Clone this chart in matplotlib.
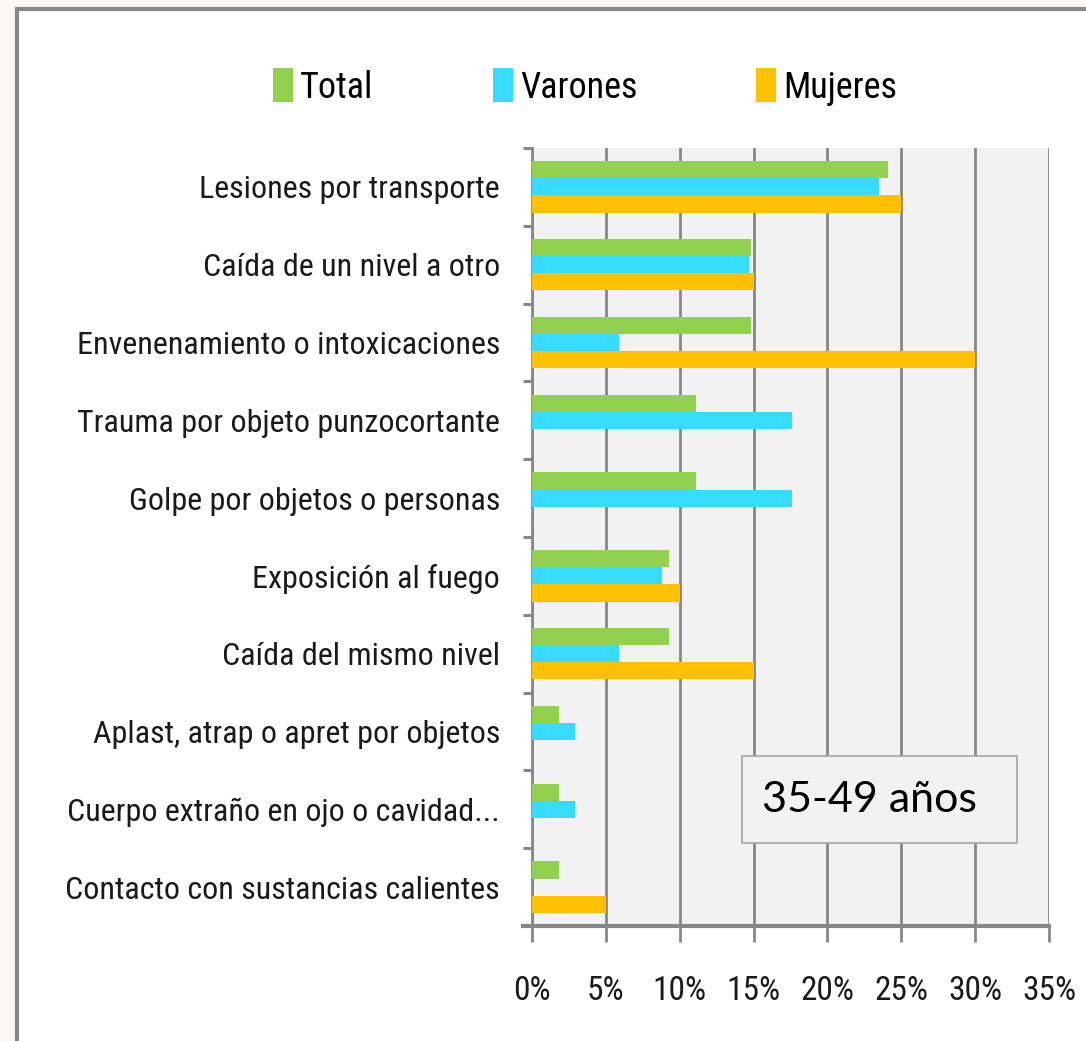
import matplotlib
matplotlib.use('Agg')
import matplotlib.pyplot as plt
from matplotlib.patches import Rectangle
from matplotlib import font_manager
import numpy as np

# datos (porcentaje por causa, 35-49 años)
categorias = ['Lesiones por transporte', 'Caída de un nivel a otro',
              'Envenenamiento o intoxicaciones', 'Trauma por objeto punzocortante',
              'Golpe por objetos o personas', 'Exposición al fuego',
              'Caída del mismo nivel', 'Aplast, atrap o apret por objetos',
              'Cuerpo extraño en ojo o cavidad...', 'Contacto con sustancias calientes']
total = [24.1, 14.8, 14.8, 11.1, 11.1, 9.3, 9.3, 1.85, 1.85, 1.85]
varones = [23.5, 14.7, 5.9, 17.6, 17.6, 8.8, 5.9, 2.94, 2.94, 0.0]
mujeres = [25.0, 15.0, 30.0, 0.0, 0.0, 10.0, 15.0, 0.0, 0.0, 5.0]
series = ['Total', 'Varones', 'Mujeres']
xticks = [0, 5, 10, 15, 20, 25, 30, 35]
xtick_labels = ['0%', '5%', '10%', '15%', '20%', '25%', '30%', '35%']
etiqueta = '35-49 años'

colores = ['#92d050', '#36dbff', '#ffc000']
gris = '#878787'

# buscar una fuente angosta, si no hay usar Roboto
disponibles = set(f.name for f in font_manager.fontManager.ttflist)
angosta = None
for nombre in ['Liberation Sans Narrow', 'DejaVu Sans Condensed', 'Roboto Condensed', 'Open Sans Condensed']:
	if nombre in disponibles:
		angosta = nombre
		break
if angosta is None:
	angosta = 'Roboto'
	esc = 0.85
else:
	esc = 1.0

plt.rcParams['font.family'] = [angosta, 'DejaVu Sans']

fig = plt.figure(figsize=(10.86, 10.41), dpi=100)
fig.patch.set_facecolor('#fcf7f2')

# marco blanco con borde gris (solo izquierda y arriba visibles)
marco = Rectangle((17 / 1086, -0.1), 1.2, 1.1 - 9 / 1041, transform=fig.transFigure,
                  facecolor='white', edgecolor=gris, linewidth=3, zorder=-10)
fig.patches.append(marco)

ax = fig.add_axes([532 / 1086, 1 - 926 / 1041, 517 / 1086, 778 / 1041])
ax.set_facecolor('#f2f2f2')

y = np.arange(len(categorias))
h = 0.221
b1 = ax.barh(y - h, total, height=h, color=colores[0], label=series[0], zorder=3)
b2 = ax.barh(y, varones, height=h, color=colores[1], label=series[1], zorder=3)
b3 = ax.barh(y + h, mujeres, height=h, color=colores[2], label=series[2], zorder=3)

ax.set_xlim(0, 35)
ax.set_ylim(len(categorias) - 0.5, -0.5)

#ticks y etiquetas
ax.set_xticks(xticks)
ax.set_xticklabels(xtick_labels, fontsize=24 * esc, color='#1a1a1a')
ax.set_yticks(y)
ax.set_yticklabels(categorias, fontsize=23 * esc, color='#1a1a1a')
ax.set_yticks(np.arange(len(categorias) + 1) - 0.5, minor=True)
ax.tick_params(axis='y', which='major', length=0, pad=23)
ax.tick_params(axis='y', which='minor', length=6.5, width=2.2, color=gris, direction='out')
ax.tick_params(axis='x', which='major', length=11.5, width=2, color=gris, direction='out', pad=24)

ax.grid(True, axis='x', color=gris, linewidth=2, zorder=1)
ax.set_axisbelow(True)

for s in ['top', 'right']:
	ax.spines[s].set_visible(False)
ax.spines['left'].set_color(gris)
ax.spines['left'].set_linewidth(2)
ax.spines['bottom'].set_color(gris)
ax.spines['bottom'].set_linewidth(3)
ax.spines['bottom'].set_bounds(-0.6, 35)

# leyenda arriba
fig.legend(handles=[b1, b2, b3], labels=series, loc='center', bbox_to_anchor=(0.539, 1 - 87 / 1041),
           ncol=3, frameon=False, fontsize=26 * esc, handlelength=0.55, handleheight=1.05,
           handletextpad=0.2, columnspacing=3.3)

# recuadro con el grupo de edad
caja = Rectangle((742 / 1086, 1 - 843 / 1041), 275 / 1086, 87 / 1041, transform=fig.transFigure,
                 facecolor='#f2f2f2', edgecolor='#a6a6a6', linewidth=1.2, zorder=5)
fig.patches.append(caja)
fig.text(762 / 1086, 1 - 800 / 1041, etiqueta, fontsize=31, family=['Lato', 'DejaVu Sans'],
         ha='left', va='center', zorder=6)

plt.savefig('out.png', dpi=100, facecolor=fig.get_facecolor())
plt.close()
